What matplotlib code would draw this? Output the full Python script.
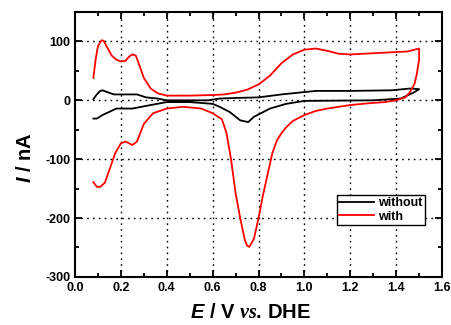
import matplotlib
matplotlib.use("Agg")
import matplotlib.pyplot as plt
from matplotlib.ticker import MultipleLocator

plt.rcParams['font.family'] = 'Liberation Sans'
plt.rcParams['font.weight'] = 'bold'
plt.rcParams['axes.unicode_minus'] = False
plt.rcParams['mathtext.fontset'] = 'custom'
plt.rcParams['mathtext.it'] = 'Liberation Sans:bold:italic'
plt.rcParams['mathtext.cal'] = 'Liberation Serif:italic'
plt.rcParams['mathtext.rm'] = 'Liberation Sans:bold'

# "with" curve (red): anodic sweep then cathodic sweep
with_E_up = [0.08, 0.09, 0.10, 0.115, 0.125, 0.14, 0.16, 0.18, 0.20, 0.22, 0.235, 0.25, 0.265,
             0.28, 0.30, 0.33, 0.36, 0.40, 0.50, 0.60, 0.65, 0.70, 0.75, 0.80, 0.85, 0.90, 0.95,
             1.00, 1.05, 1.10, 1.15, 1.20, 1.30, 1.40, 1.45, 1.50]
with_I_up = [38, 70, 92, 102, 101, 90, 76, 69, 66, 67, 74, 78, 76,
             60, 38, 20, 12, 8, 8, 9, 10, 13, 18, 27, 42, 63, 78,
             86, 88, 84, 79, 78, 80, 82, 83, 88]
with_E_down = [1.50, 1.49, 1.48, 1.46, 1.44, 1.40, 1.35, 1.28, 1.20, 1.10, 1.05, 1.00, 0.95,
               0.92, 0.90, 0.88, 0.86, 0.84, 0.82, 0.80, 0.78, 0.76, 0.75, 0.74, 0.72, 0.70,
               0.68, 0.66, 0.64, 0.60, 0.55, 0.47, 0.40, 0.34, 0.30, 0.27, 0.25, 0.22, 0.20,
               0.175, 0.15, 0.13, 0.11, 0.095, 0.08]
with_I_down = [69, 45, 28, 14, 5, 0, -3, -5, -8, -14, -18, -25, -35,
               -46, -56, -68, -90, -125, -160, -200, -235, -249, -247, -237, -200, -158,
               -100, -55, -32, -22, -14, -11, -14, -22, -40, -70, -76, -70, -73,
               -90, -118, -140, -147, -147, -139]

# "without" curve (black)
without_E_up = [0.08, 0.095, 0.11, 0.12, 0.14, 0.17, 0.27, 0.31, 0.36, 0.40, 0.58, 0.63, 0.70,
                0.80, 0.90, 1.00, 1.05, 1.20, 1.38, 1.46, 1.50]
without_I_up = [2, 10, 16, 17, 14, 10, 10, 5, 3, 0, 0, 3, 4,
                5, 10, 14, 16, 16, 17, 20, 19]
without_E_down = [1.50, 1.48, 1.42, 1.30, 1.00, 0.92, 0.85, 0.78, 0.755, 0.72, 0.675, 0.63, 0.60,
                  0.50, 0.40, 0.33, 0.25, 0.18, 0.12, 0.095, 0.08]
without_I_down = [19, 14, 3, 0, -1, -6, -14, -28, -37, -34, -20, -11, -6,
                  -3, -3, -8, -14, -14, -25, -31, -31]

fig = plt.figure(figsize=(4.52, 3.25), dpi=100)
ax = fig.add_axes([0.166, 0.148, 0.812, 0.815])

ax.plot(without_E_up + without_E_down, without_I_up + without_I_down, color='black', lw=1.3, label='without', zorder=3)
ax.plot(with_E_up + with_E_down, with_I_up + with_I_down, color='red', lw=1.3, label='with', zorder=3)

ax.set_xlim(0.0, 1.6)
ax.set_ylim(-300, 150)
ax.xaxis.set_major_locator(MultipleLocator(0.2))
ax.xaxis.set_minor_locator(MultipleLocator(0.1))
ax.yaxis.set_major_locator(MultipleLocator(100))
ax.yaxis.set_minor_locator(MultipleLocator(50))
ax.set_yticks([-300, -200, -100, 0, 100])
ax.xaxis.set_major_formatter(matplotlib.ticker.FormatStrFormatter('%.1f'))

ax.tick_params(which='both', direction='in', top=True, right=True, labelsize=9, width=1.3)
ax.tick_params(which='major', length=5)
ax.tick_params(which='minor', length=3)
for s in ax.spines.values():
    s.set_linewidth(1.5)

# dotted grid at the major ticks
for xv in [0.2, 0.4, 0.6, 0.8, 1.0, 1.2, 1.4]:
    ax.axvline(xv, color='black', lw=1.0, linestyle=(0, (1.2, 3)), zorder=1)
for yv in [-200, -100, 0, 100]:
    ax.axhline(yv, color='black', lw=1.0, linestyle=(0, (1.2, 3)), zorder=1)

ax.set_xlabel(r'$\it{E}$ / V $\mathcal{vs}$. DHE', fontsize=14.5, fontweight='bold')
ax.set_ylabel(r'$\it{I}$ / nA', fontsize=14.5, fontweight='bold')
ax.xaxis.set_label_coords(0.477, -0.098)
ax.yaxis.set_label_coords(-0.11, 0.45)

leg = ax.legend(loc='upper right', bbox_to_anchor=(0.953, 0.31), fontsize=9, frameon=True,
                fancybox=False, handlelength=2.8, borderpad=0.2, labelspacing=0.1,
                handletextpad=0.3, borderaxespad=0, framealpha=1)
leg.get_frame().set_edgecolor('black')
leg.get_frame().set_linewidth(1.0)

fig.savefig('out.png', dpi=100)
